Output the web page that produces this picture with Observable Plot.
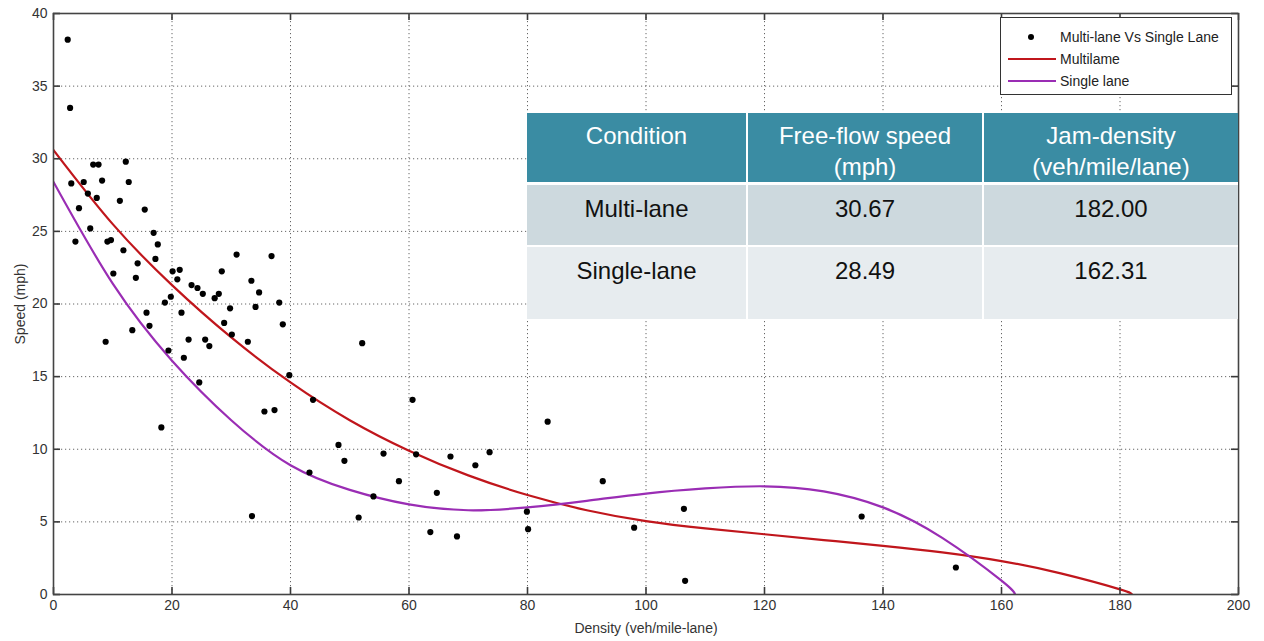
<!DOCTYPE html>
<html><head><meta charset="utf-8">
<script src="https://cdn.jsdelivr.net/npm/d3@7"></script>
<script src="https://cdn.jsdelivr.net/npm/@observablehq/plot@0.6"></script>
<style>
body{margin:0;background:#fff;}
#wrap{position:relative;width:1264px;height:641px;overflow:hidden;}
#tbl{position:absolute;left:527px;top:113px;width:711px;border-collapse:separate;border-spacing:0;table-layout:fixed;font-family:"Liberation Sans",Arial,sans-serif;}
#tbl td{text-align:center;vertical-align:top;padding:0;box-sizing:border-box;}
#tbl tr.h td{background:#3a8ca3;color:#fff;font-size:24px;line-height:31px;height:70px;padding-top:7px;border-right:2px solid #fff;border-bottom:3px solid #fff;}
#tbl tr.r1 td{background:#cdd9de;color:#111;font-size:24px;height:62px;padding-top:10px;border-right:2px solid #fff;border-bottom:2px solid #fff;}
#tbl tr.r2 td{background:#e7ecef;color:#111;font-size:24px;height:72px;padding-top:10px;border-right:2px solid #fff;}
#tbl td:last-child{border-right:none !important;}
#legend{position:absolute;left:1000px;top:17px;width:232px;height:78px;box-sizing:border-box;border:1px solid #333;background:#fff;font-family:"Liberation Sans",Arial,sans-serif;font-size:14px;color:#222;}
#legend .row{position:absolute;left:0;height:20px;display:flex;align-items:center;}
#legend svg{width:56px;height:20px;}
</style>
</head><body><div id="wrap"></div>
<script>
// Scatter observations (density veh/mile-lane, speed mph)
const density = [2.4,2.8,3.0,3.7,4.3,5.1,5.8,6.2,6.7,7.6,7.3,8.2,9.1,9.7,10.1,11.2,11.8,12.2,12.7,13.9,14.2,15.4,15.7,16.9,17.6,17.2,18.8,19.8,20.1,21.3,20.9,21.6,23.3,24.3,25.2,27.2,27.9,28.4,29.8,30.9,33.4,34.7,34.1,36.8,38.1,
 8.8,13.3,16.2,18.2,19.4,22.0,22.8,24.6,25.6,26.3,28.8,30.1,32.8,33.5,35.6,37.3,38.7,39.8,43.8,43.2,
 52.1,60.6,48.1,49.1,55.7,61.2,58.3,54.0,51.5,64.7,63.6,68.1,67.0,71.2,73.6,83.4,79.9,80.1,92.7,
 98.0,106.4,106.6,136.4,152.3];
const speed = [38.2,33.5,28.3,24.3,26.6,28.4,27.6,25.2,29.6,29.6,27.3,28.5,24.3,24.4,22.1,27.1,23.7,29.8,28.4,21.8,22.8,26.5,19.4,24.9,24.1,23.1,20.1,20.5,22.25,22.35,21.7,19.4,21.3,21.1,20.7,20.4,20.7,22.25,19.7,23.4,21.6,20.8,19.8,23.3,20.1,
 17.4,18.2,18.5,11.5,16.8,16.3,17.55,14.6,17.55,17.1,18.7,17.9,17.4,5.4,12.6,12.7,18.6,15.1,13.4,8.4,
 17.3,13.4,10.3,9.2,9.7,9.65,7.8,6.75,5.3,7.0,4.3,4.0,9.5,8.9,9.8,11.9,5.7,4.5,7.8,
 4.6,5.9,0.94,5.37,1.86];

// Fitted curves
const multiX = [0,10,20,30,40,50,60,70,80,90,100,110,120,130,140,150,160,170,180,182];
const multiY = [30.6,25.5,21.3,17.7,14.6,12.0,9.9,8.2,6.85,5.8,5.05,4.55,4.15,3.75,3.35,2.9,2.3,1.45,0.35,0];
const singleX = [0,10,20,30,40,50,60,70,80,90,100,110,120,130,140,150,160,162.3];
const singleY = [28.4,21.4,16.1,12.0,8.9,7.2,6.2,5.8,6.0,6.45,6.95,7.3,7.45,7.1,6.0,3.9,0.95,0];

const xTicks = [0,20,40,60,80,100,120,140,160,180,200];
const yTicks = [0,5,10,15,20,25,30,35,40];

const legendLabels = ["Multi-lane Vs Single Lane","Multilame","Single lane"];
const seriesColors = ["#000000","#c0161c","#9a2db4"];

const tableHeader = [["Condition"],["Free-flow speed","(mph)"],["Jam-density","(veh/mile/lane)"]];
const conditions = ["Multi-lane","Single-lane"];
const freeFlow = ["30.67","28.49"];
const jamDensity = ["182.00","162.31"];

const points = density.map((d,i)=>({x:d,y:speed[i]}));
const multi = multiX.map((d,i)=>({x:d,y:multiY[i]}));
const single = singleX.map((d,i)=>({x:d,y:singleY[i]}));

const W = 1264, H = 641, ML = 53, MR = 26, MT = 13, MB = 47;
const innerW = W - ML - MR, innerH = H - MT - MB, TL = 7;

const font = '"Liberation Sans", Arial, sans-serif';
const gridStyle = {stroke:"#666", strokeOpacity:1, strokeWidth:1, strokeDasharray:"1.2,2.8"};
const tickStyle = {stroke:"#3a3a3a", strokeWidth:1.6, strokeOpacity:1};

const chart = Plot.plot({
  width:W, height:H,
  marginLeft:ML, marginRight:MR, marginTop:MT, marginBottom:MB,
  x:{domain:[0,200], ticks:xTicks},
  y:{domain:[0,40], ticks:yTicks},
  style:{fontFamily:font, fontSize:"14px", color:"#333", background:"white", overflow:"visible"},
  marks:[
    Plot.gridX(xTicks, gridStyle),
    Plot.gridY(yTicks, gridStyle),
    Plot.line(multi, {x:"x", y:"y", stroke:seriesColors[1], strokeWidth:2.2, curve:"natural", clip:true}),
    Plot.line(single, {x:"x", y:"y", stroke:seriesColors[2], strokeWidth:2.2, curve:"natural", clip:true}),
    Plot.dot(points, {x:"x", y:"y", r:3.1, fill:"#000", stroke:"none"}),
    // inward ticks on all four sides
    Plot.tickX(xTicks, {x:d=>d, insetTop:innerH-TL, ...tickStyle}),
    Plot.tickX(xTicks, {x:d=>d, insetBottom:innerH-TL, ...tickStyle}),
    Plot.tickY(yTicks, {y:d=>d, insetRight:innerW-TL, ...tickStyle}),
    Plot.tickY(yTicks, {y:d=>d, insetLeft:innerW-TL, ...tickStyle}),
    Plot.frame({stroke:"#444", strokeWidth:1.6}),
    Plot.axisX(xTicks, {anchor:"bottom", tickSize:0, tickPadding:6, fill:"#333", fontSize:14, label:"Density (veh/mile-lane)", labelAnchor:"center", labelArrow:"none", labelOffset:38}),
    Plot.axisY(yTicks, {anchor:"left", tickSize:0, tickPadding:6, fill:"#333", fontSize:14, label:"Speed (mph)", labelAnchor:"center", labelArrow:"none", labelOffset:38})
  ]
});
const wrap = document.getElementById("wrap");
wrap.appendChild(chart);

// Legend
const leg = document.createElement("div");
leg.id = "legend";
legendLabels.forEach((lab,i)=>{
  const row = document.createElement("div");
  row.className = "row";
  row.style.top = (9 + i*22) + "px";
  const sw = i===0
    ? `<svg><circle cx="30" cy="10" r="3" fill="${seriesColors[0]}"/></svg>`
    : `<svg><line x1="7" x2="55" y1="10" y2="10" stroke="${seriesColors[i]}" stroke-width="2.2"/></svg>`;
  row.innerHTML = sw + `<span style="margin-left:3px">${lab}</span>`;
  leg.appendChild(row);
});
wrap.appendChild(leg);

// Table
const tbl = document.createElement("table");
tbl.id = "tbl";
const cg = document.createElement("colgroup");
[221,236,254].forEach(w=>{const c=document.createElement("col");c.style.width=w+"px";cg.appendChild(c);});
tbl.appendChild(cg);
const hr = document.createElement("tr"); hr.className="h";
tableHeader.forEach(lines=>{const td=document.createElement("td"); td.innerHTML=lines.join("<br>"); hr.appendChild(td);});
tbl.appendChild(hr);
conditions.forEach((c,i)=>{
  const tr=document.createElement("tr"); tr.className = i===0?"r1":"r2";
  [c, freeFlow[i], jamDensity[i]].forEach(v=>{const td=document.createElement("td"); td.textContent=v; tr.appendChild(td);});
  tbl.appendChild(tr);
});
wrap.appendChild(tbl);
</script>
</body></html>
